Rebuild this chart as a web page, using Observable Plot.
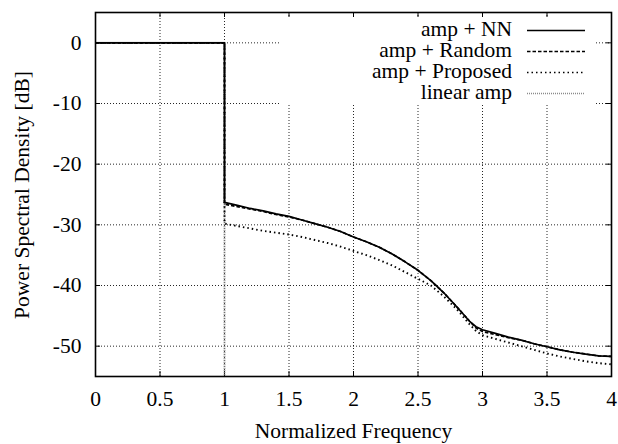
<!DOCTYPE html>
<html><head><meta charset="utf-8">
<script src="https://cdn.jsdelivr.net/npm/d3@7"></script>
<script src="https://cdn.jsdelivr.net/npm/@observablehq/plot@0.6"></script>
<style>
body{margin:0;background:#fff;}
#wrap{position:relative;width:618px;height:444px;}
#wrap svg text{font-family:"Liberation Serif","Times New Roman",serif;}
#legend{position:absolute;left:0;top:0;}
</style></head><body><div id="wrap"></div>
<script>
// ---- data ----
const freq = [0, 1, 1, 1.1, 1.2, 1.3, 1.4, 1.5, 1.6, 1.7, 1.8, 1.9, 2.0, 2.1, 2.2, 2.3, 2.4, 2.5, 2.6, 2.7, 2.8, 2.9, 2.95, 3.0, 3.1, 3.2, 3.3, 3.4, 3.5, 3.6, 3.7, 3.8, 3.9, 4.0];
const ampNN = [0, 0, -26.3, -26.8, -27.3, -27.7, -28.2, -28.6, -29.2, -29.8, -30.4, -31.1, -32.0, -32.8, -33.7, -34.8, -36.1, -37.5, -39.2, -41.2, -43.5, -45.9, -46.8, -47.3, -47.9, -48.5, -49.0, -49.6, -50.1, -50.6, -51.0, -51.3, -51.6, -51.7];
const ampRandom = [0, 0, -26.6, -27.0, -27.4, -27.8, -28.3, -28.7, -29.2, -29.8, -30.4, -31.1, -32.0, -32.8, -33.7, -34.8, -36.1, -37.5, -39.2, -41.2, -43.5, -45.9, -47.0, -47.6, -48.1, -48.6, -49.0, -49.6, -50.1, -50.6, -51.0, -51.3, -51.6, -51.7];
const ampProposed = [0, 0, -29.8, -30.2, -30.6, -31.0, -31.3, -31.6, -32.0, -32.5, -33.0, -33.6, -34.3, -35.0, -35.8, -36.7, -37.8, -38.9, -40.0, -41.8, -43.9, -46.4, -47.5, -48.2, -48.8, -49.4, -50.0, -50.6, -51.2, -51.7, -52.1, -52.5, -52.8, -53.0];
const freqLinear = [0, 1, 1, 4];
const linearAmp = [0, 0, -200, -200];
const seriesNames = ["amp + NN", "amp + Random", "amp + Proposed", "linear amp"];
const xTicks = [0, 0.5, 1, 1.5, 2, 2.5, 3, 3.5, 4];
const xTickLabels = ["0", "0.5", "1", "1.5", "2", "2.5", "3", "3.5", "4"];
const yTicks = [0, -10, -20, -30, -40, -50];
const yTickLabels = ["0", "-10", "-20", "-30", "-40", "-50"];
const xLabel = "Normalized Frequency";
const yLabel = "Power Spectral Density [dB]";

// ---- styles ----
const styles = {
  "amp + NN": {stroke: "#000", strokeWidth: 1.7, strokeDasharray: null},
  "amp + Random": {stroke: "#000", strokeWidth: 1.7, strokeDasharray: "3.5,2"},
  "amp + Proposed": {stroke: "#000", strokeWidth: 1.9, strokeDasharray: "1.5,3"},
  "linear amp": {stroke: "#8a8a8a", strokeWidth: 2, strokeDasharray: "1,1"}
};

const toRows = (xs, ys, name) => xs.map((f, i) => ({f, v: ys[i], s: name}));
const rows = {
  "amp + NN": toRows(freq, ampNN, "amp + NN"),
  "amp + Random": toRows(freq, ampRandom, "amp + Random"),
  "amp + Proposed": toRows(freq, ampProposed, "amp + Proposed"),
  "linear amp": toRows(freqLinear, linearAmp, "linear amp")
};

const W = 618, H = 444, mL = 95, mR = 7, mT = 12, mB = 68;
const plotH = H - mT - mB, plotW = W - mL - mR;
const FS = 21.5;
const lineMark = name => Plot.line(rows[name], {x: "f", y: "v", clip: true, ...styles[name], strokeLinejoin: "round", strokeLinecap: "butt"});

const chart = Plot.plot({
  width: W, height: H,
  marginLeft: mL, marginRight: mR, marginTop: mT, marginBottom: mB,
  style: {fontFamily: "Liberation Serif", fontSize: FS + "px", background: "#fff", color: "#000"},
  x: {domain: [0, 4]},
  y: {domain: [-55, 5]},
  marks: [
    Plot.gridX(xTicks, {stroke: "#000", strokeOpacity: 0.85, strokeDasharray: "1,2"}),
    Plot.gridY(yTicks, {stroke: "#000", strokeOpacity: 0.85, strokeDasharray: "1,2"}),
    Plot.tickX(xTicks, {x: d => d, insetBottom: plotH - 5, stroke: "#000"}),
    Plot.tickX(xTicks, {x: d => d, insetTop: plotH - 5, stroke: "#000"}),
    Plot.tickY(yTicks, {y: d => d, insetRight: plotW - 5, stroke: "#000"}),
    Plot.tickY(yTicks, {y: d => d, insetLeft: plotW - 5, stroke: "#000"}),
    lineMark("linear amp"),
    lineMark("amp + Proposed"),
    lineMark("amp + Random"),
    lineMark("amp + NN"),
    Plot.frame({stroke: "#000", strokeWidth: 1.6}),
    Plot.axisX(xTicks, {tickSize: 0, tickPadding: 14, fontSize: FS, label: null, tickFormat: d => xTickLabels[xTicks.indexOf(d)]}),
    Plot.axisY(yTicks, {tickSize: 0, tickPadding: 14, fontSize: FS, label: null, tickFormat: d => yTickLabels[yTicks.indexOf(d)]}),
    Plot.text([xLabel], {frameAnchor: "bottom", text: d => d, dy: 61, lineAnchor: "bottom", textAnchor: "middle", fontSize: FS}),
    Plot.text([yLabel], {frameAnchor: "left", text: d => d, rotate: -90, dx: -67, dy: 0.5, lineAnchor: "bottom", textAnchor: "middle", fontSize: FS})
  ]
});
const wrap = document.getElementById("wrap");
wrap.appendChild(chart);

// ---- legend overlay ----
const leg = d3.select(wrap).append("svg").attr("id", "legend")
  .attr("width", W).attr("height", H).style("pointer-events", "none");
leg.append("rect").attr("x", 280).attr("y", 17).attr("width", 316).attr("height", 87).attr("fill", "#fff");
seriesNames.forEach((name, i) => {
  const base = 36 + i * 21;
  leg.append("text").attr("x", 512).attr("y", base).attr("text-anchor", "end")
    .attr("font-size", FS).attr("fill", "#000").text(name);
  const st = styles[name];
  const l = leg.append("line").attr("x1", 527).attr("x2", 585).attr("y1", base - 5.5).attr("y2", base - 5.5)
    .attr("stroke", st.stroke).attr("stroke-width", 1.3);
  if (st.strokeDasharray) l.attr("stroke-dasharray", st.strokeDasharray);
});
</script></body></html>
